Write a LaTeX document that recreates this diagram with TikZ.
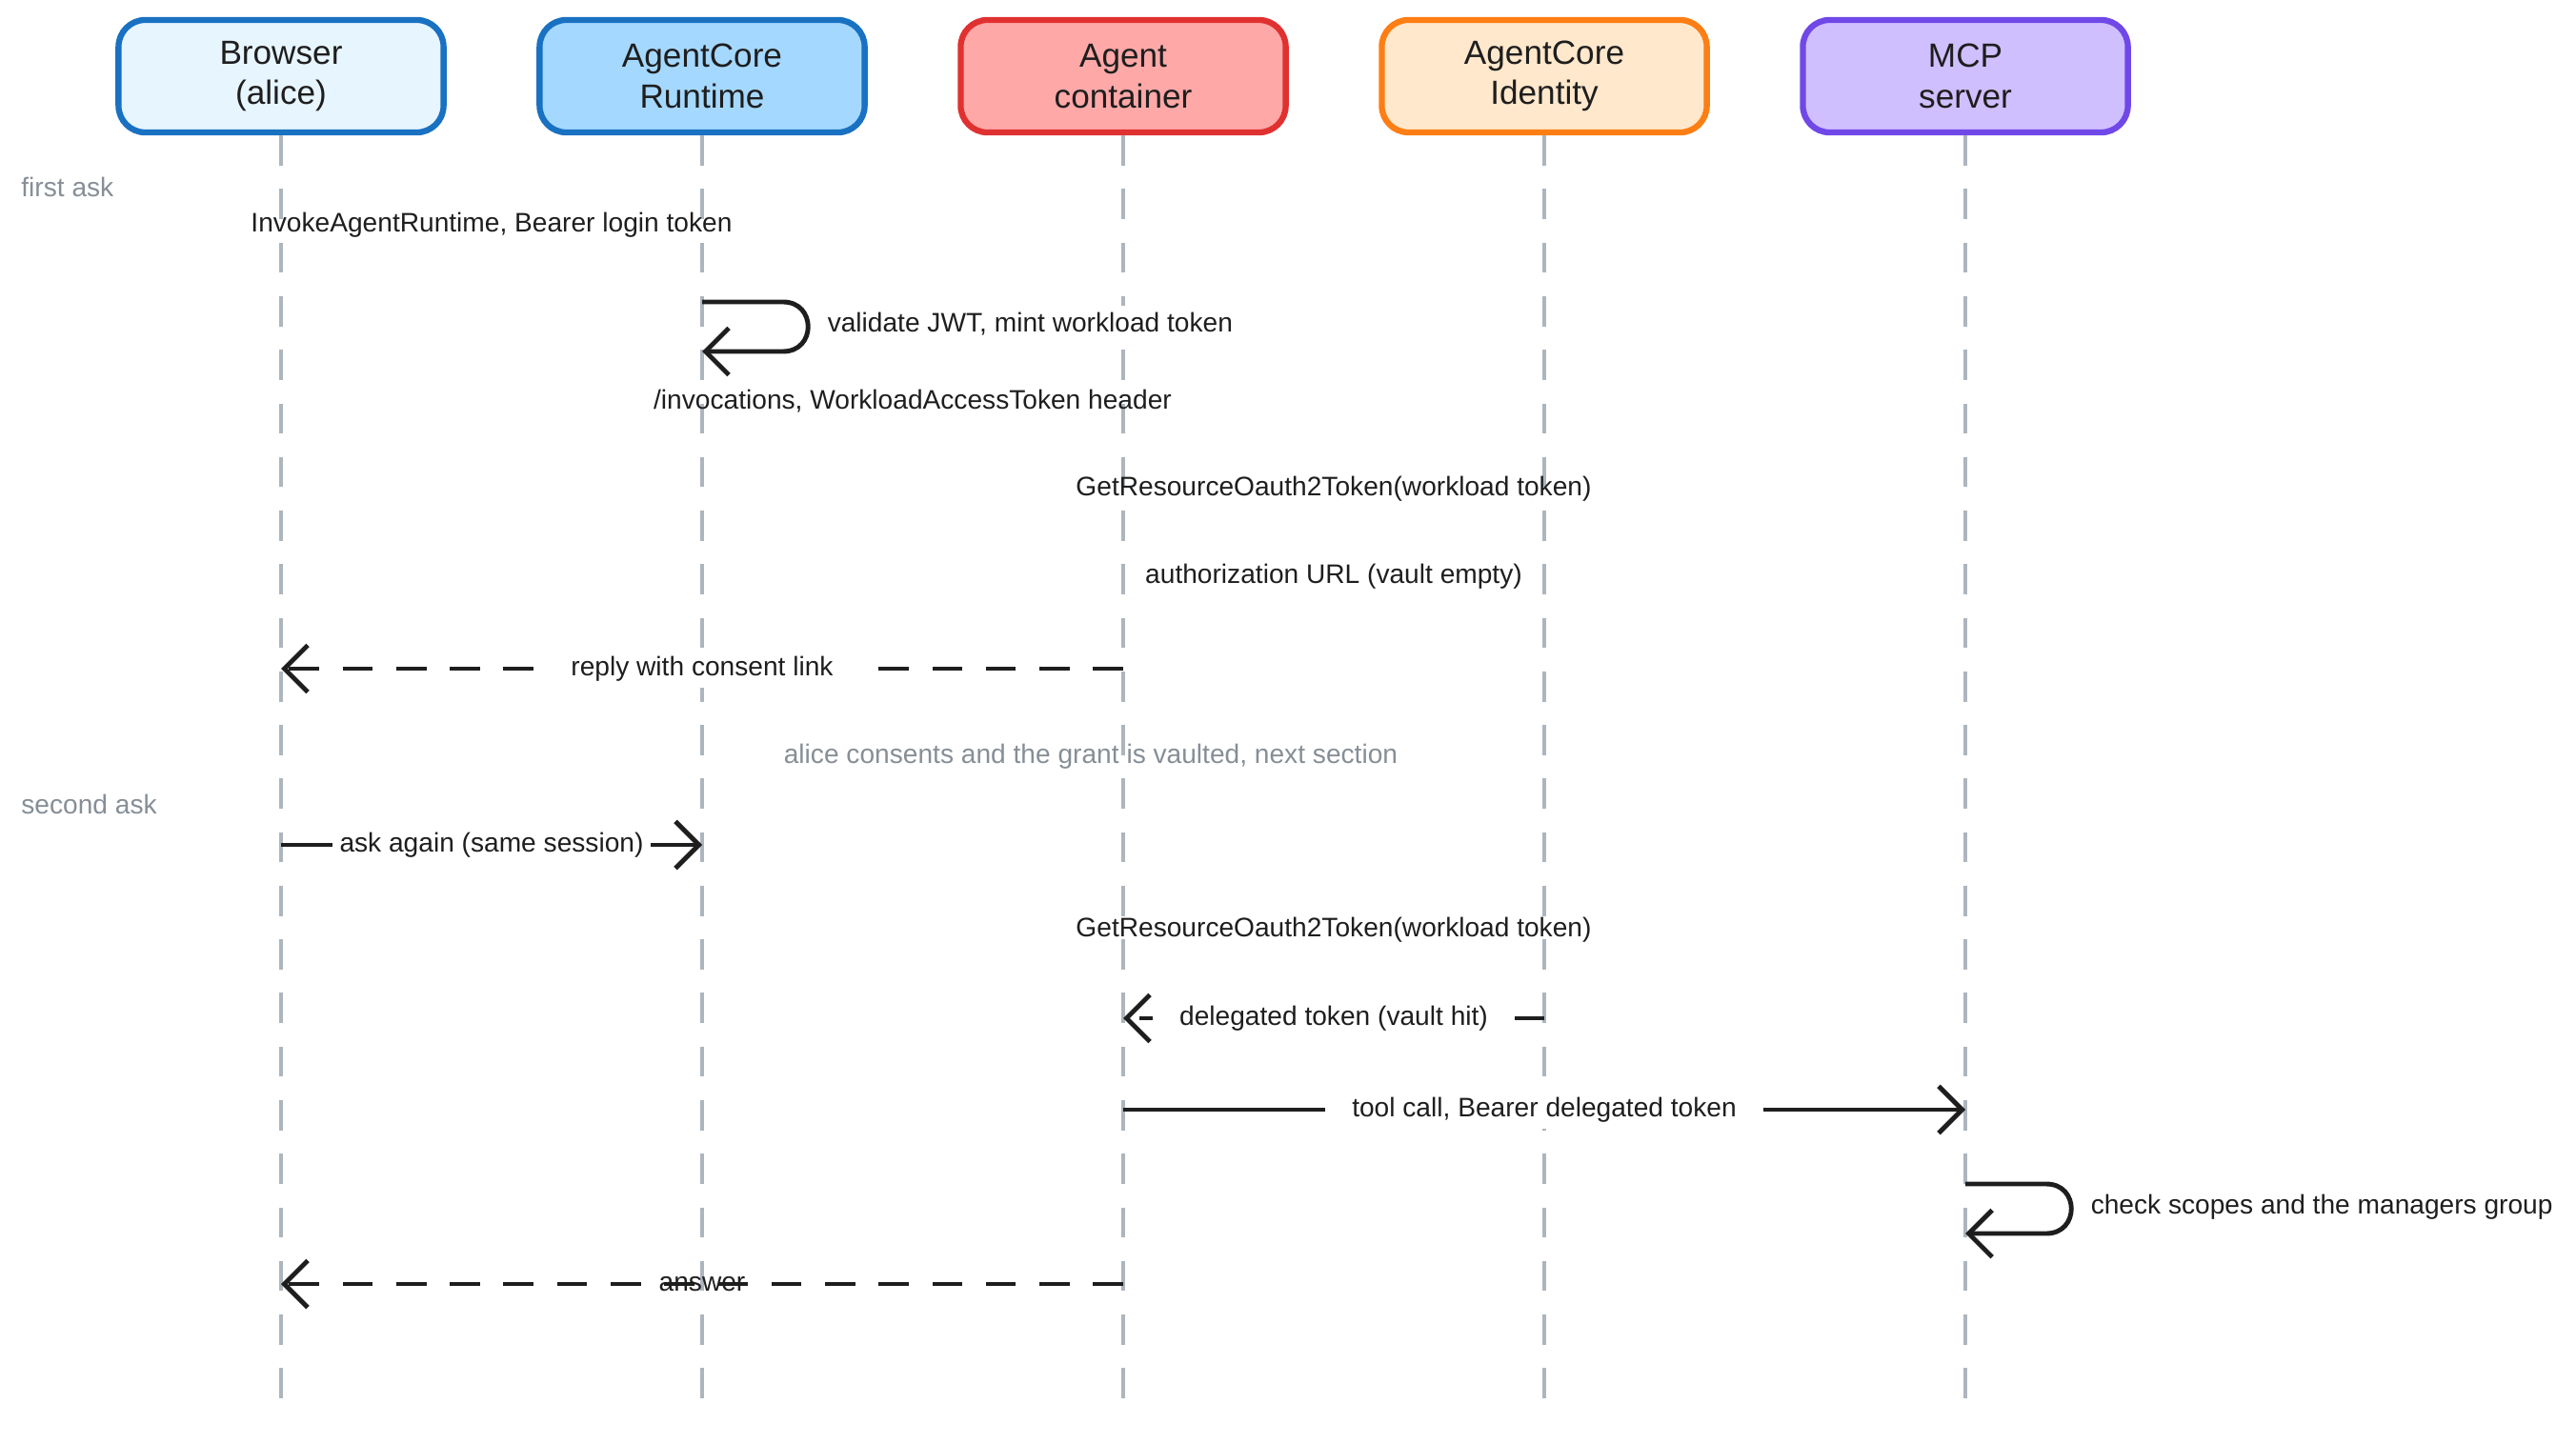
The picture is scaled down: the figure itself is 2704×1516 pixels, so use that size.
\documentclass[tikz,border=0pt]{standalone}
\usepackage{fontspec}
\setmainfont{Liberation Sans}
\usetikzlibrary{arrows.meta}
\definecolor{bluefill}{HTML}{E7F5FF}
\definecolor{bluemid}{HTML}{A5D8FF}
\definecolor{bluedraw}{HTML}{1971C2}
\definecolor{redfill}{HTML}{FFA8A8}
\definecolor{reddraw}{HTML}{E03131}
\definecolor{orangefill}{HTML}{FFE8CC}
\definecolor{orangedraw}{HTML}{FD7E14}
\definecolor{violetfill}{HTML}{D0BFFF}
\definecolor{violetdraw}{HTML}{7048E8}
\definecolor{lifegrey}{HTML}{ADB5BD}
\definecolor{notegrey}{HTML}{868E96}
\definecolor{ink}{HTML}{1E1E1E}
\tikzset{
  actor/.style={draw, line width=1.8pt, rounded corners=8pt, minimum width=3.41cm,
    minimum height=1.18cm, align=center, font=\fontsize{10}{12}\selectfont, text=ink},
  life/.style={draw=lifegrey, line width=1pt, dash pattern=on 9pt off 7pt},
  msg/.style={font=\fontsize{8}{10}\selectfont, text=ink, fill=white, inner sep=2pt},
  note/.style={font=\fontsize{8}{10}\selectfont, text=notegrey},
  call/.style={draw=ink, line width=1.4pt, -{Straight Barb[length=7pt, width=14pt]}},
  back/.style={call, dash pattern=on 9pt off 7pt},
}
\begin{document}
\begin{tikzpicture}[x=0.01cm, y=-0.01cm]
\def\xa{295};
\def\xb{737};
\def\xc{1179};
\def\xd{1621};
\def\xe{2063};
\def\ybot{1490};

\useasboundingbox (0,0) rectangle (2704,1516);

% participants
\node[actor, fill=bluefill, draw=bluedraw] (browser) at (\xa, 80) {Browser\\(alice)};
\node[actor, fill=bluemid, draw=bluedraw] (runtime) at (\xb, 80) {AgentCore\\Runtime};
\node[actor, fill=redfill, draw=reddraw] (agent) at (\xc, 80) {Agent\\container};
\node[actor, fill=orangefill, draw=orangedraw] (identity) at (\xd, 80) {AgentCore\\Identity};
\node[actor, fill=violetfill, draw=violetdraw] (mcp) at (\xe, 80) {MCP\\server};

% lifelines
\coordinate (browserend) at (\xa, \ybot);
\coordinate (runtimeend) at (\xb, \ybot);
\coordinate (agentend) at (\xc, \ybot);
\coordinate (identityend) at (\xd, \ybot);
\coordinate (mcpend) at (\xe, \ybot);
\draw[life] (browser) -- (browserend);
\draw[life] (runtime) -- (runtimeend);
\draw[life] (agent) -- (agentend);
\draw[life] (identity) -- (identityend);
\draw[life] (mcp) -- (mcpend);

% first ask
\node[note, anchor=west] (firstask) at (10, 196) {first ask};
\node[msg, fill=none] (invoke) at (516, 236) {InvokeAgentRuntime, Bearer login token};

\coordinate (loopa) at (\xb, 317);
\coordinate (loopb) at (\xb, 369);
\draw[call] (loopa) -- ++(85,0) .. controls +(35,0) and +(35,0) .. ++(0,52) -- (loopb);
\node[msg, anchor=west] (validate) at (\xb+124, 340) {validate JWT, mint workload token};

\node[msg, fill=none] (invocations) at (958, 421) {/invocations, WorkloadAccessToken header};
\node[msg, fill=none] (getres) at (1400, 513) {GetResourceOauth2Token(workload token)};
\node[msg, fill=none] (authurl) at (1400, 605) {authorization URL (vault empty)};

\coordinate (replya) at (\xc, 702);
\coordinate (replyb) at (\xa, 702);
\draw[back] (replya) -- (replyb) node[msg, pos=0.5, inner xsep=8pt] (reply) {reply with consent link};

\node[note] (consent) at (1145, 794) {alice consents and the grant is vaulted, next section};

% second ask
\node[note, anchor=west] (secondask) at (10, 844) {second ask};
\coordinate (againa) at (\xa, 887);
\coordinate (againb) at (\xb, 887);
\draw[call] (againa) -- (againb) node[msg, pos=0.5] (again) {ask again (same session)};

\node[msg, fill=none] (getres2) at (1400, 976) {GetResourceOauth2Token(workload token)};

\coordinate (delega) at (\xd, 1069);
\coordinate (delegb) at (\xc, 1069);
\draw[back] (delega) -- (delegb) node[msg, pos=0.5, inner xsep=8pt] (deleg) {delegated token (vault hit)};

\coordinate (toola) at (\xc, 1165);
\coordinate (toolb) at (\xe, 1165);
\draw[call] (toola) -- (toolb) node[msg, pos=0.5, inner xsep=8pt] (tool) {tool call, Bearer delegated token};

\coordinate (checka) at (\xe, 1243);
\coordinate (checkb) at (\xe, 1295);
\draw[call] (checka) -- ++(85,0) .. controls +(35,0) and +(35,0) .. ++(0,52) -- (checkb);
\node[msg, anchor=west] (check) at (\xe+124, 1267) {check scopes and the managers group};

\coordinate (answera) at (\xc, 1348);
\coordinate (answerb) at (\xa, 1348);
\draw[back] (answera) -- (answerb) node[msg, pos=0.5, fill=none] (answer) {answer};

\end{tikzpicture}
\end{document}
